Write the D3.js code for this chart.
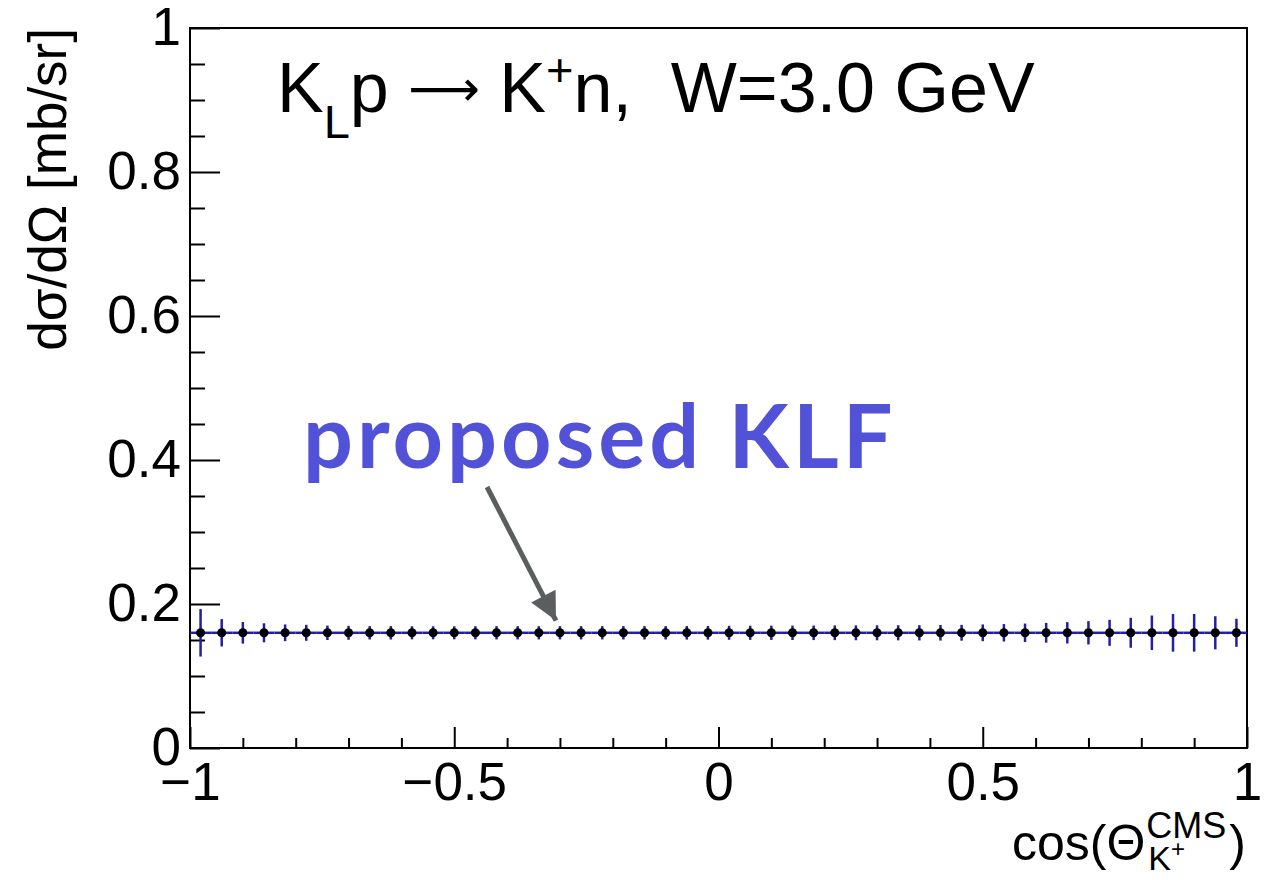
<!DOCTYPE html>
<html>
<head>
<meta charset="utf-8">
<script src="https://cdn.jsdelivr.net/npm/d3@7"></script>
<style>
  html, body { margin: 0; padding: 0; background: #fff; }
  svg { display: block; }
  text { font-family: "Liberation Sans", Arial, Helvetica, sans-serif; }
</style>
</head>
<body>
<svg id="chart" width="1275" height="880"></svg>
<script>
// Bin centres in cos(theta_K+) (50 bins of width 0.04)
const binCenters = [
  -0.98, -0.94, -0.90, -0.86, -0.82, -0.78, -0.74, -0.70, -0.66, -0.62,
  -0.58, -0.54, -0.50, -0.46, -0.42, -0.38, -0.34, -0.30, -0.26, -0.22,
  -0.18, -0.14, -0.10, -0.06, -0.02,  0.02,  0.06,  0.10,  0.14,  0.18,
   0.22,  0.26,  0.30,  0.34,  0.38,  0.42,  0.46,  0.50,  0.54,  0.58,
   0.62,  0.66,  0.70,  0.74,  0.78,  0.82,  0.86,  0.90,  0.94,  0.98
];
const binHalfWidth = 0.02;

// Projected dσ/dΩ [mb/sr] per bin
const crossSection = [
  0.16, 0.16, 0.16, 0.16, 0.16, 0.16, 0.16, 0.16, 0.16, 0.16,
  0.16, 0.16, 0.16, 0.16, 0.16, 0.16, 0.16, 0.16, 0.16, 0.16,
  0.16, 0.16, 0.16, 0.16, 0.16, 0.16, 0.16, 0.16, 0.16, 0.16,
  0.16, 0.16, 0.16, 0.16, 0.16, 0.16, 0.16, 0.16, 0.16, 0.16,
  0.16, 0.16, 0.16, 0.16, 0.16, 0.16, 0.16, 0.16, 0.16, 0.16
];

// Statistical uncertainty per bin [mb/sr]
const crossSectionErr = [
  0.033, 0.019, 0.015, 0.0132, 0.0116, 0.0111, 0.0100, 0.0097, 0.0093, 0.0093,
  0.0091, 0.0090, 0.0090, 0.0091, 0.0092, 0.0092, 0.0092, 0.0092, 0.0092, 0.0092,
  0.0093, 0.0093, 0.0093, 0.0094, 0.0095, 0.0097, 0.0098, 0.0099, 0.0100, 0.0101,
  0.0102, 0.0103, 0.0104, 0.0105, 0.0106, 0.0108, 0.0110, 0.0116, 0.0121, 0.0128,
  0.0137, 0.0148, 0.0162, 0.0181, 0.0208, 0.0240, 0.0262, 0.0262, 0.0230, 0.0195
];

// Axis ticks
const xMajorTicks = [-1, -0.5, 0, 0.5, 1];
const xMinorTicks = [-0.9, -0.8, -0.7, -0.6, -0.4, -0.3, -0.2, -0.1, 0.1, 0.2, 0.3, 0.4, 0.6, 0.7, 0.8, 0.9];
const yMajorTicks = [0, 0.2, 0.4, 0.6, 0.8, 1];
const yMinorTicks = [0.05, 0.1, 0.15, 0.25, 0.3, 0.35, 0.45, 0.5, 0.55, 0.65, 0.7, 0.75, 0.85, 0.9, 0.95];

(function draw() {
  const bins = binCenters.map((c, i) => ({ c, v: crossSection[i], e: crossSectionErr[i] }));

  const svg = d3.select("#chart");
  const plotLeft = 190, plotRight = 1247, plotTop = 28, plotBottom = 748;

  const x = d3.scaleLinear().domain([-1, 1]).range([plotLeft, plotRight]);
  const y = d3.scaleLinear().domain([0, 1]).range([plotBottom, plotTop]);

  const fmt = d3.format("~g");

  // Axes: ticks point inward, as in ROOT
  function styleAxis(g) {
    g.select(".domain").remove();
    g.selectAll(".tick line").attr("stroke", "#000").attr("stroke-width", 2);
    g.selectAll(".tick text").attr("fill", "#000").attr("font-size", 53)
      .attr("font-family", "'Liberation Sans', Arial, Helvetica, sans-serif");
  }

  svg.append("g").attr("transform", `translate(0,${plotBottom})`)
    .call(d3.axisBottom(x).tickValues(xMajorTicks).tickSize(-21).tickPadding(14).tickFormat(fmt))
    .call(styleAxis);
  svg.append("g").attr("transform", `translate(0,${plotBottom})`)
    .call(d3.axisBottom(x).tickValues(xMinorTicks).tickSize(-10).tickFormat(""))
    .call(styleAxis);

  svg.append("g").attr("transform", `translate(${plotLeft},0)`)
    .call(d3.axisLeft(y).tickValues(yMajorTicks).tickSize(-30).tickPadding(9).tickFormat(fmt))
    .call(styleAxis);
  svg.append("g").attr("transform", `translate(${plotLeft},0)`)
    .call(d3.axisLeft(y).tickValues(yMinorTicks).tickSize(-15).tickFormat(""))
    .call(styleAxis);

  // Frame
  svg.append("rect")
    .attr("x", plotLeft).attr("y", plotTop)
    .attr("width", plotRight - plotLeft).attr("height", plotBottom - plotTop)
    .attr("fill", "none").attr("stroke", "#000").attr("stroke-width", 2);

  const markColor = "#1f1fa8";

  // Horizontal bin bars
  svg.append("g").selectAll("line").data(bins).join("line")
    .attr("x1", d => x(d.c - binHalfWidth)).attr("x2", d => x(d.c + binHalfWidth))
    .attr("y1", d => y(d.v)).attr("y2", d => y(d.v))
    .attr("stroke", markColor).attr("stroke-width", 2.5);

  // Vertical error bars
  svg.append("g").selectAll("line").data(bins).join("line")
    .attr("x1", d => x(d.c)).attr("x2", d => x(d.c))
    .attr("y1", d => y(d.v - d.e)).attr("y2", d => y(d.v + d.e))
    .attr("stroke", markColor).attr("stroke-width", 2.5);

  // Markers
  svg.append("g").selectAll("circle").data(bins).join("circle")
    .attr("cx", d => x(d.c)).attr("cy", d => y(d.v)).attr("r", 4.5)
    .attr("fill", "#000");

  // Title: K_L p -> K+ n, W=3.0 GeV
  const title = svg.append("text").attr("x", 277).attr("y", 112).attr("font-size", 70).attr("fill", "#000");
  title.append("tspan").text("K");
  title.append("tspan").attr("font-size", 47).attr("dy", 26).text("L");
  title.append("tspan").attr("dy", -26).text("p ");
  title.append("tspan").attr("font-family", "'DejaVu Sans', sans-serif").attr("font-size", 50)
    .attr("dy", -6).text("\u27f6");
  title.append("tspan").attr("dy", 6).text(" K");
  title.append("tspan").attr("font-size", 47).attr("dy", -26).text("+");
  title.append("tspan").attr("dy", 26).text("n,\u00a0\u00a0W=3.0 GeV");

  // Y axis title
  svg.append("text")
    .attr("transform", `translate(66,${plotTop}) rotate(-90)`)
    .attr("text-anchor", "end").attr("font-size", 53).attr("fill", "#000")
    .text("d\u03c3/d\u03a9 [mb/sr]");

  // X axis title: cos(Θ^CMS_K+)
  const xt = svg.append("g");
  const lead = xt.append("text").attr("x", 0).attr("y", 0).attr("font-size", 50).text("cos(\u0398");
  const w1 = lead.node().getComputedTextLength();
  const sup = xt.append("text").attr("x", w1 + 1).attr("y", -22).attr("font-size", 36).text("CMS");
  const sub = xt.append("text").attr("x", w1 + 3).attr("y", 10).attr("font-size", 34);
  sub.append("tspan").text("K");
  sub.append("tspan").attr("font-size", 24).attr("dy", -13).text("+");
  const wSup = sup.node().getComputedTextLength();
  const paren = xt.append("text").attr("x", w1 + wSup + 4).attr("y", 0).attr("font-size", 50).text(")");
  const totalW = w1 + wSup + 4 + paren.node().getComputedTextLength();
  xt.attr("transform", `translate(${1246 - totalW},860)`);

  // Annotation
  svg.append("text")
    .attr("x", 303).attr("y", 468)
    .style("font-family", "Lato, 'Open Sans', sans-serif").style("font-weight", "bold")
    .style("letter-spacing", "4px")
    .attr("font-size", 88).attr("fill", "#5252d8")
    .text("proposed KLF");

  const arrowStart = [-0.438, 0.3625];
  const arrowTip = [-0.3075, 0.177];
  svg.append("defs").append("marker")
    .attr("id", "head").attr("viewBox", "0 0 10 10")
    .attr("refX", 10).attr("refY", 5)
    .attr("markerWidth", 6).attr("markerHeight", 5.5).attr("markerUnits", "strokeWidth")
    .attr("orient", "auto")
    .append("path").attr("d", "M0,0 L10,5 L0,10 Z").attr("fill", "#5a5e5e");
  svg.append("line")
    .attr("x1", x(arrowStart[0])).attr("y1", y(arrowStart[1]))
    .attr("x2", x(arrowTip[0])).attr("y2", y(arrowTip[1]))
    .attr("stroke", "#5a5e5e").attr("stroke-width", 5)
    .attr("marker-end", "url(#head)");
})();
</script>
</body>
</html>
